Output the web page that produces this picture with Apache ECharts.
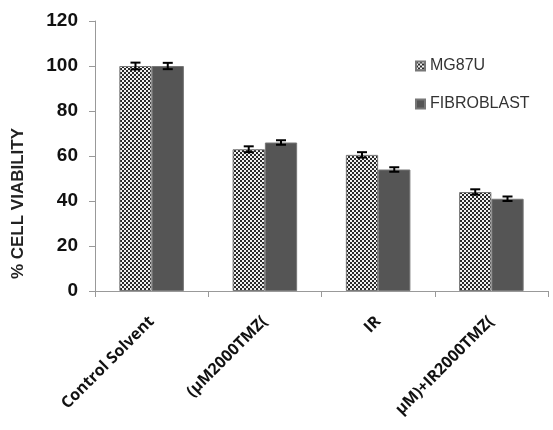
<!DOCTYPE html>
<html><head><meta charset="utf-8">
<script src="https://cdn.jsdelivr.net/npm/echarts@6/dist/echarts.min.js"></script>
<style>html,body{margin:0;padding:0;background:#fff}#c{width:553px;height:430px}</style>
</head><body><div id="c"></div>
<script>
var categories = ['Control Solvent', '(µM2000TMZ(', 'IR', 'µM)+IR2000TMZ('];
var seriesNames = ['MG87U', 'FIBROBLAST'];
var mg87u = [100, 63, 60.5, 44];
var fibroblast = [100, 66, 54, 41];
var mg87uErr = [1.5, 1.3, 1.2, 1.2];
var fibroblastErr = [1.4, 1.0, 1.0, 1.0];
var yTicks = [0, 20, 40, 60, 80, 100, 120];

var pc = document.createElement('canvas');
pc.width = 4; pc.height = 4;
var g = pc.getContext('2d');
g.fillStyle = '#f2f2f2'; g.fillRect(0,0,4,4);
g.fillStyle = '#2a2a2a'; g.fillRect(0,0,2,2); g.fillRect(2,2,2,2);

var catGap = 0.43;
function errSeries(vals, errs, idx) {
  return {
    type: 'custom', z: 10, silent: true,
    data: vals.map(function(v, i){ return [i, v, errs[i]]; }),
    renderItem: function(params, api) {
      var i = api.value(0), v = api.value(1), e = api.value(2);
      var band = api.size([1, 0])[0];
      var barW = band * (1 - catGap) / 2;
      var off = (idx === 0 ? -0.5 : 0.5) * barW;
      var top = api.coord([i, v + e]);
      var bot = api.coord([i, v - e]);
      var x = top[0] + off;
      var cw = 5;
      var st = {stroke: '#000', lineWidth: 2};
      return {type: 'group', children: [
        {type: 'line', shape: {x1: x, y1: top[1], x2: x, y2: bot[1]}, style: st},
        {type: 'line', shape: {x1: x - cw, y1: top[1], x2: x + cw, y2: top[1]}, style: st},
        {type: 'line', shape: {x1: x - cw, y1: bot[1], x2: x + cw, y2: bot[1]}, style: st}
      ]};
    }
  };
}

var chart = echarts.init(document.getElementById('c'));
chart.setOption({
  animation: false,
  backgroundColor: '#fff',
  grid: {left: 95, right: 5, top: 21, bottom: 139},
  legend: {
    orient: 'vertical', left: 410, top: 53, itemWidth: 9, itemHeight: 9, itemGap: 22,
    icon: 'rect',
    data: seriesNames,
    textStyle: {fontFamily: 'Liberation Sans, Arial, sans-serif', fontSize: 16, color: '#333'}
  },
  xAxis: {
    type: 'category', data: categories,
    axisLine: {lineStyle: {color: '#999', width: 1}},
    axisTick: {show: true, length: 6, lineStyle: {color: '#999'}},
    axisLabel: {rotate: 45, interval: 0, margin: 28, color: '#111', fontWeight: 'bold',
      fontFamily: 'Open Sans, Liberation Sans, sans-serif', fontSize: 16}
  },
  yAxis: {
    type: 'value', min: 0, max: 120, interval: 20,
    axisLine: {show: true, lineStyle: {color: '#999'}},
    axisTick: {show: true, length: 6, lineStyle: {color: '#999'}},
    splitLine: {show: false},
    axisLabel: {margin: 17, color: '#111', fontWeight: 'bold', fontSize: 19,
      fontFamily: 'Liberation Sans, Arial, sans-serif',
      formatter: function(v){ return yTicks.indexOf(v) >= 0 ? String(v) : ''; }}
  },
  graphic: [{
    type: 'text', left: 10, top: 128, rotation: Math.PI / 2,
    style: {text: '% CELL VIABILITY', font: 'bold 17px "Liberation Sans", Arial, sans-serif', fill: '#222'}
  }],
  series: [
    {name: seriesNames[0], type: 'bar', data: mg87u, barGap: '0%', barCategoryGap: (catGap*100)+'%',
      itemStyle: {color: {image: pc, repeat: 'repeat'}, borderColor: '#777', borderWidth: 1}},
    {name: seriesNames[1], type: 'bar', data: fibroblast, barGap: '0%', barCategoryGap: (catGap*100)+'%',
      itemStyle: {color: '#555555', borderColor: '#777', borderWidth: 1}},
    errSeries(mg87u, mg87uErr, 0),
    errSeries(fibroblast, fibroblastErr, 1)
  ]
});
</script></body></html>
